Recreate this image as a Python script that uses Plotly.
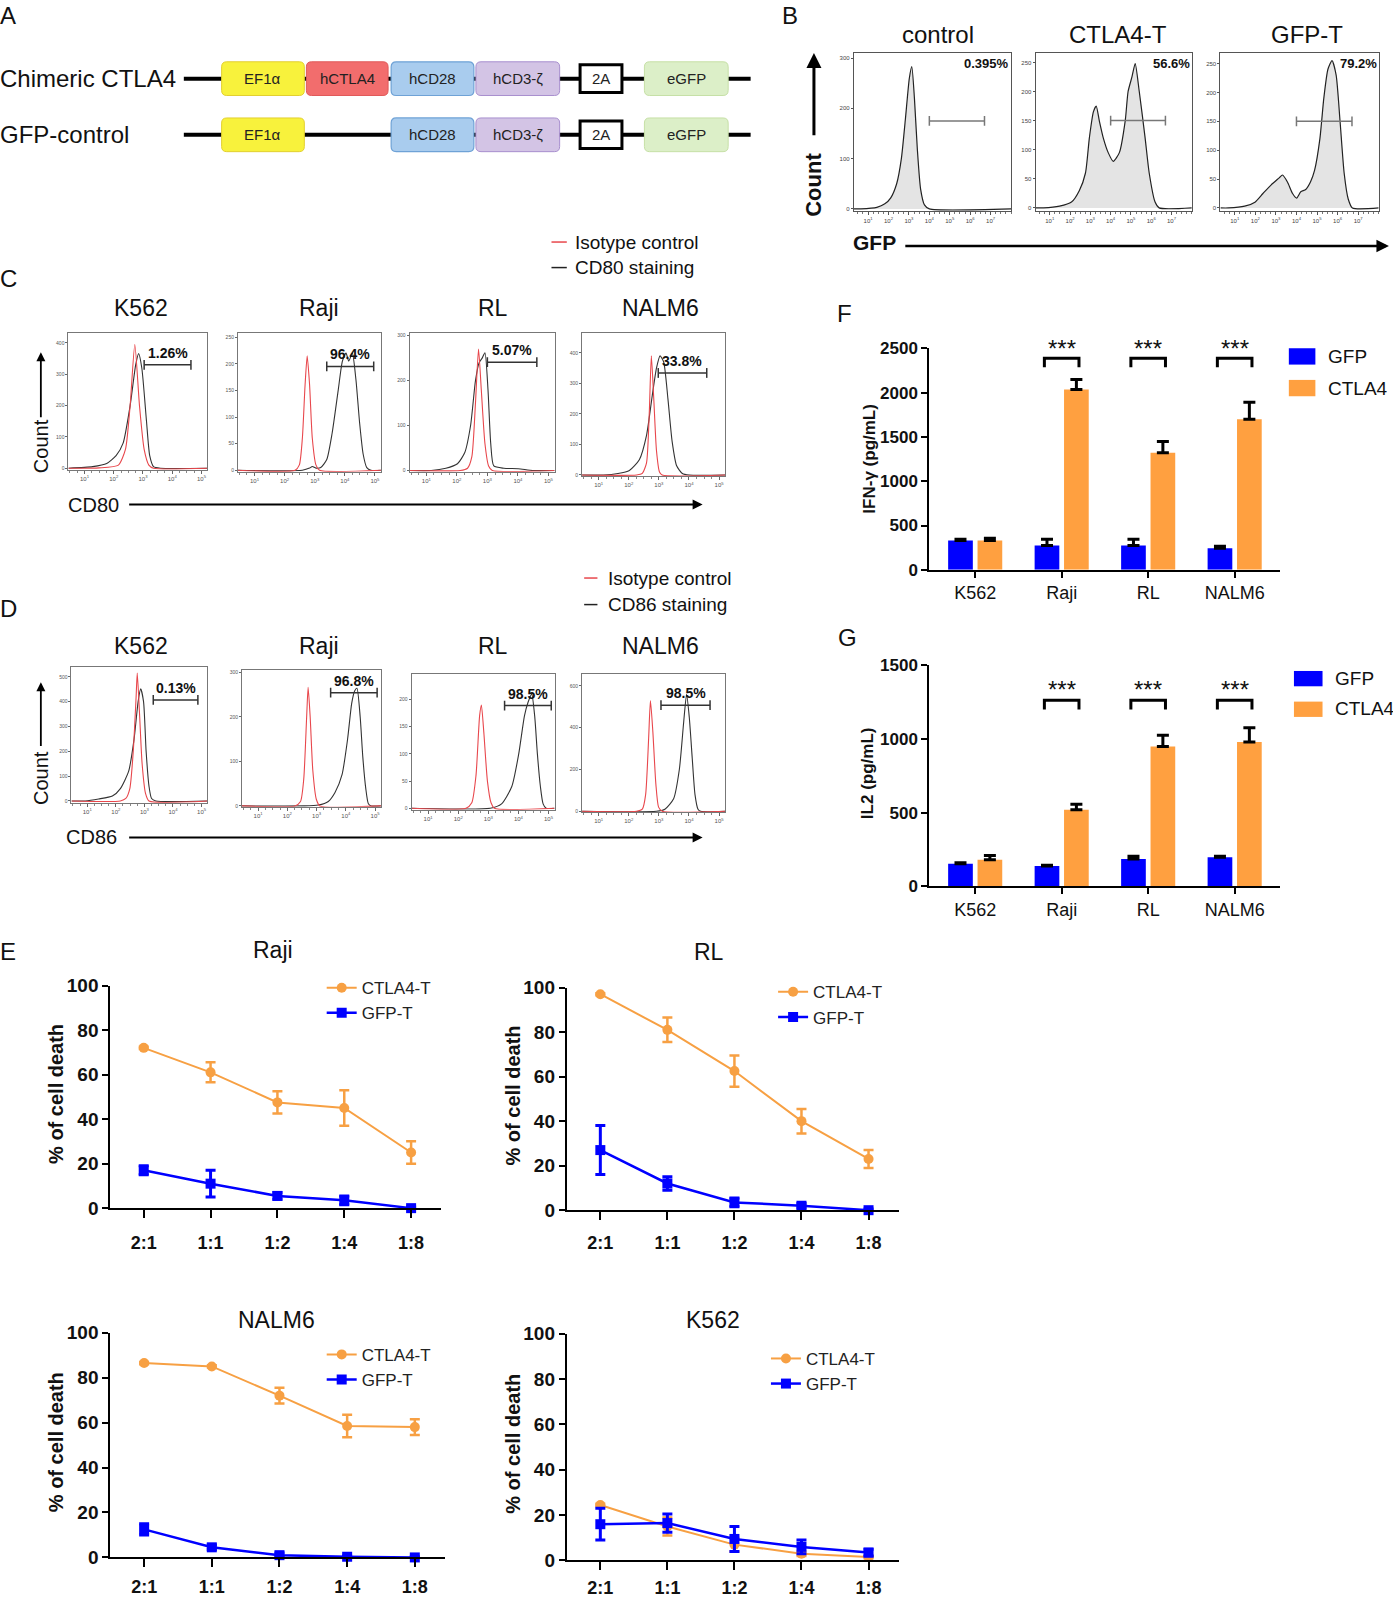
import plotly.graph_objects as go

# ======================= DATA =======================
# Panel A - constructs
construct_rows = ["Chimeric CTLA4", "GFP-control"]
construct_parts = ["EF1α", "hCTLA4", "hCD28", "hCD3-ζ", "2A", "eGFP"]
construct_present = [[1, 1, 1, 1, 1, 1], [1, 0, 1, 1, 1, 1]]

# Panel B - GFP histograms (x = log10 fluorescence, y = count)
gfp_panels = ["control", "CTLA4-T", "GFP-T"]
gfp_pct = ["0.395%", "56.6%", "79.2%"]
gfp_ctrl_logx = [0.3, 0.65, 1.43, 1.82, 2.11, 2.40, 2.63, 2.83, 3.02, 3.14, 3.27, 3.41, 3.57, 3.76, 4.0, 8.0]
gfp_ctrl_count = [0, 0, 3, 10, 22, 50, 100, 180, 260, 283, 220, 120, 40, 8, 0, 0]
gfp_ctla4t_logx = [0.3, 0.69, 1.48, 2.07, 2.46, 2.76, 2.95, 3.15, 3.29, 3.44, 3.64, 3.88, 4.13, 4.43, 4.72,
                   4.86, 5.05, 5.21, 5.41, 5.70, 5.90, 6.19, 6.39, 8.0]
gfp_ctla4t_count = [0, 0, 3, 10, 30, 60, 120, 165, 175, 150, 120, 95, 80, 95, 150,
                    200, 225, 248, 200, 120, 60, 10, 0, 0]
gfp_gfpt_logx = [0.3, 0.69, 1.48, 1.98, 2.37, 2.77, 3.16, 3.32, 3.56, 3.81, 4.01, 4.21, 4.45, 4.68, 4.88,
                 5.14, 5.33, 5.53, 5.73, 5.93, 6.12, 6.32, 6.52, 6.72, 8.0]
gfp_gfpt_count = [0, 0, 3, 10, 25, 40, 52, 57, 45, 25, 17, 28, 32, 45, 65,
                  120, 190, 240, 255, 230, 150, 60, 15, 0, 0]
gfp_gate_lo = [4.0, 4.0, 4.0]
gfp_gate_hi = [6.7, 6.7, 6.7]
gfp_gate_count = [175, 150, 150]

# Panels C/D - CD80 / CD86 histograms
cd_cell_lines = ["K562", "Raji", "RL", "NALM6"]
cd80_pct = ["1.26%", "96.4%", "5.07%", "33.8%"]
cd86_pct = ["0.13%", "96.8%", "98.5%", "98.5%"]

cd80_k562_iso_x = [0.45, 1.5, 2.16, 2.40, 2.56, 2.72, 2.88, 3.04, 3.20, 3.36, 5.2]
cd80_k562_iso_y = [0, 1, 10, 60, 200, 395, 200, 60, 10, 0, 0]
cd80_k562_stain_x = [0.45, 1.28, 1.76, 2.08, 2.32, 2.56, 2.75, 2.85, 2.96, 3.12, 3.23, 3.36, 3.60, 5.2]
cd80_k562_stain_y = [0, 5, 15, 40, 80, 200, 330, 366, 320, 150, 40, 5, 0, 0]
cd80_raji_iso_x = [0.45, 2.35, 2.49, 2.59, 2.68, 2.75, 2.83, 2.92, 3.04, 3.16, 5.2]
cd80_raji_iso_y = [0, 0, 10, 60, 160, 215, 160, 60, 10, 0, 0]
cd80_raji_stain_x = [0.45, 2.59, 2.83, 2.92, 3.04, 3.20, 3.40, 3.58, 3.78, 3.92, 4.04, 4.13, 4.25, 4.37,
                     4.49, 4.61, 4.73, 4.87, 5.2]
cd80_raji_stain_y = [0, 0, 4, 7, 4, 5, 20, 70, 150, 205, 220, 205, 220, 170, 90, 30, 5, 0, 0]
cd80_rl_iso_x = [0.45, 2.11, 2.35, 2.49, 2.61, 2.71, 2.80, 2.92, 3.04, 3.16, 5.2]
cd80_rl_iso_y = [0, 0, 5, 30, 150, 270, 180, 60, 10, 0, 0]
cd80_rl_stain_x = [0.45, 1.16, 1.64, 2.02, 2.26, 2.45, 2.61, 2.73, 2.83, 2.92, 3.02, 3.11, 3.21, 3.54,
                   4.01, 4.49, 5.2]
cd80_rl_stain_y = [0, 0, 5, 15, 40, 100, 200, 240, 250, 262, 180, 60, 10, 5, 4, 0, 0]
cd80_nalm6_iso_x = [0.45, 2.26, 2.45, 2.59, 2.68, 2.75, 2.83, 2.92, 3.02, 3.11, 5.2]
cd80_nalm6_iso_y = [0, 0, 5, 40, 200, 390, 250, 80, 10, 0, 0]
cd80_nalm6_stain_x = [0.45, 1.16, 1.64, 2.02, 2.35, 2.59, 2.78, 2.92, 3.04, 3.16, 3.30, 3.44, 3.59, 3.78,
                      4.01, 5.2]
cd80_nalm6_stain_y = [0, 0, 5, 15, 50, 130, 260, 350, 390, 370, 250, 110, 30, 5, 0, 0]
cd80_gate_lo = [3.04, 3.40, 3.00, 2.98]
cd80_gate_hi = [4.64, 4.96, 4.62, 4.59]
cd80_gate_count = [330, 195, 241, 334]

cd86_k562_iso_x = [0.45, 2.16, 2.35, 2.49, 2.61, 2.71, 2.75, 2.83, 2.92, 3.04, 3.16, 5.2]
cd86_k562_iso_y = [0, 0, 10, 50, 200, 420, 515, 350, 150, 30, 0, 0]
cd86_k562_stain_x = [0.45, 0.93, 1.40, 1.88, 2.16, 2.45, 2.64, 2.78, 2.87, 2.97, 3.06, 3.16, 3.25, 3.40, 5.2]
cd86_k562_stain_y = [0, 0, 8, 20, 50, 120, 250, 400, 452, 400, 200, 60, 10, 0, 0]
cd86_raji_iso_x = [0.45, 2.26, 2.45, 2.56, 2.66, 2.71, 2.78, 2.87, 2.99, 3.11, 5.2]
cd86_raji_iso_y = [0, 0, 10, 60, 200, 266, 200, 80, 15, 0, 0]
cd86_raji_stain_x = [0.45, 2.59, 3.06, 3.40, 3.63, 3.87, 4.06, 4.20, 4.30, 4.38, 4.49, 4.58, 4.68, 4.77,
                     4.87, 5.2]
cd86_raji_stain_y = [0, 0, 2, 10, 30, 70, 150, 230, 258, 264, 200, 110, 40, 5, 0, 0]
cd86_rl_iso_x = [0.45, 2.26, 2.45, 2.59, 2.71, 2.77, 2.85, 2.97, 3.09, 3.20, 5.2]
cd86_rl_iso_y = [0, 0, 10, 60, 170, 190, 140, 50, 10, 0, 0]
cd86_rl_stain_x = [0.45, 3.06, 3.44, 3.78, 4.01, 4.20, 4.32, 4.44, 4.54, 4.63, 4.73, 4.82, 4.92, 5.2]
cd86_rl_stain_y = [0, 0, 8, 40, 100, 170, 195, 210, 170, 100, 40, 8, 0, 0]
cd86_nalm6_iso_x = [0.45, 2.26, 2.45, 2.56, 2.66, 2.72, 2.80, 2.90, 2.99, 3.11, 5.2]
cd86_nalm6_iso_y = [0, 0, 10, 80, 350, 530, 380, 130, 20, 0, 0]
cd86_nalm6_stain_x = [0.45, 2.92, 3.20, 3.49, 3.68, 3.82, 3.92, 4.01, 4.11, 4.20, 4.30, 4.39, 5.2]
cd86_nalm6_stain_y = [0, 0, 10, 60, 200, 420, 560, 450, 250, 80, 10, 0, 0]
cd86_gate_lo = [3.31, 3.48, 3.54, 3.07]
cd86_gate_hi = [4.87, 5.07, 5.09, 4.70]
cd86_gate_count = [407, 254, 189, 508]

# Panel E - cytotoxicity (% of cell death) at E:T ratios
ratios = ["2:1", "1:1", "1:2", "1:4", "1:8"]
raji_ctla4 = [72, 61, 47.5, 45, 25]
raji_ctla4_err = [0.5, 4.5, 5, 8, 5]
raji_gfp = [17, 11, 5.5, 3.5, 0]
raji_gfp_err = [2, 6, 1.5, 2, 0.5]
rl_ctla4 = [97, 81, 62.5, 40, 23]
rl_ctla4_err = [0.5, 5.5, 7, 5.5, 4]
rl_gfp = [27, 12, 3.5, 2, 0]
rl_gfp_err = [11, 3, 2, 1, 0.5]
nalm6_ctla4 = [86.5, 85, 72, 58.5, 58]
nalm6_ctla4_err = [0.5, 0.5, 3.5, 5, 3.5]
nalm6_gfp = [12.5, 4.5, 1, 0.3, 0]
nalm6_gfp_err = [2.5, 1, 1, 0.3, 0.3]
k562_ctla4 = [24.5, 15, 7, 3, 1.5]
k562_ctla4_err = [0.5, 4, 3, 1, 0.5]
k562_gfp = [16, 16.5, 9.5, 6, 3.5]
k562_gfp_err = [7, 4, 5.5, 3, 1.5]

# Panels F/G - cytokines
cells = ["K562", "Raji", "RL", "NALM6"]
ifng_gfp = [330, 275, 275, 245]
ifng_gfp_err = [15, 70, 70, 20]
ifng_ctla4 = [330, 2035, 1320, 1700]
ifng_ctla4_err = [27, 113, 127, 192]
il2_gfp = [153, 139, 186, 198]
il2_gfp_err = [7, 4, 18, 7]
il2_ctla4 = [180, 519, 948, 977]
il2_ctla4_err = [29, 38, 76, 97]
sig_cells = ["Raji", "RL", "NALM6"]
ifng_bracket = [2285, 2387]
ifng_star = 2500
il2_bracket = [1198, 1260]
il2_star = 1330

# ======================= LAYOUT HELPERS =======================
W, H = 1393, 1601
S = W / 1364.0
FONT = "Liberation Sans, Arial, Helvetica, sans-serif"
BLUE = "#0000ff"
ORANGE = "#ffa040"
ORANGE_LINE = "#f7a043"
RED = "#e8474c"
DARK = "#333333"


def px_x(v):
    return v * S / W


def px_y(v):
    return 1 - v * S / H


layout = dict(width=W, height=H, autosize=False,
              margin=dict(l=0, r=0, t=0, b=0, pad=0, autoexpand=False),
              paper_bgcolor="white", plot_bgcolor="rgba(0,0,0,0)",
              font=dict(family=FONT, color="#111"),
              barmode="group", bargap=0.32, bargroupgap=0.16,
              showlegend=True)
annotations = []
shapes = []
axis_counter = [0]
fig = go.Figure()


def make_axes(x0, x1, y0, y1, xcfg, ycfg):
    axis_counter[0] += 1
    n = axis_counter[0]
    s = "" if n == 1 else str(n)
    xc = dict(domain=[px_x(x0), px_x(x1)], anchor="y" + s, showgrid=False, zeroline=False,
              automargin=False)
    xc.update(xcfg)
    yc = dict(domain=[px_y(y1), px_y(y0)], anchor="x" + s, showgrid=False, zeroline=False,
              automargin=False)
    yc.update(ycfg)
    layout["xaxis" + s] = xc
    layout["yaxis" + s] = yc
    return "x" + s, "y" + s


def text(x, y, t, size, bold=False, angle=0, anchor="center", color="#111"):
    annotations.append(dict(xref="paper", yref="paper", x=px_x(x), y=px_y(y), text=t,
                            showarrow=False, textangle=angle, xanchor=anchor, yanchor="middle",
                            font=dict(family=FONT, size=size, color=color,
                                      weight="bold" if bold else "normal")))


def arrow(x0, y0, x1, y1, width=2.0):
    annotations.append(dict(xref="paper", yref="paper", x=px_x(x1), y=px_y(y1),
                            ax=(x0 - x1) * S, ay=(y0 - y1) * S, axref="pixel", ayref="pixel",
                            text="", showarrow=True, arrowhead=2, arrowsize=1,
                            arrowwidth=width, arrowcolor="#000"))


def paper_rect(x0, x1, y0, y1, color):
    shapes.append(dict(type="rect", xref="paper", yref="paper", x0=px_x(x0), x1=px_x(x1),
                       y0=px_y(y1), y1=px_y(y0), fillcolor=color, line=dict(width=0)))


def paper_line(x0, x1, y, color, width=1.5):
    shapes.append(dict(type="line", xref="paper", yref="paper", x0=px_x(x0), x1=px_x(x1),
                       y0=px_y(y), y1=px_y(y), line=dict(color=color, width=width)))


# ======================= PANEL A =======================
xa, ya = make_axes(0, 760, 40, 170, dict(range=[0, 760], visible=False),
                   dict(range=[170, 40], visible=False))
part_x0 = [217, 300, 383, 466, 568, 631]
part_w = [81, 80, 81, 82, 41, 82]
part_fill = ["#f8f23c", "#f26d6d", "#a9ccee", "#d3c4e5", "#ffffff", "#dcefc8"]
part_line = ["#e2cf30", "#e05a5a", "#6fa2d6", "#a88fce", "#000000", "#c6e0a6"]
part_lw = [1, 1, 1.2, 1, 3, 1]
row_y = [77, 132]


def rrect(x0, y0, x1, y1, r):
    return (f"M {x0 + r},{y0} L {x1 - r},{y0} Q {x1},{y0} {x1},{y0 + r} L {x1},{y1 - r} "
            f"Q {x1},{y1} {x1 - r},{y1} L {x0 + r},{y1} Q {x0},{y1} {x0},{y1 - r} "
            f"L {x0},{y0 + r} Q {x0},{y0} {x0 + r},{y0} Z")


for r, rname in enumerate(construct_rows):
    yc = row_y[r]
    text(-2, yc, rname, 24, anchor="left")
    shapes.append(dict(type="line", xref=xa, yref=ya, x0=180, x1=735, y0=yc, y1=yc,
                       line=dict(color="#000", width=4)))
    for i, part in enumerate(construct_parts):
        if not construct_present[r][i]:
            continue
        hh = 13.5 if part == "2A" else 16.5
        x0 = part_x0[i]
        x1 = x0 + part_w[i]
        rad = 0 if part == "2A" else 5
        shapes.append(dict(type="path", xref=xa, yref=ya, path=rrect(x0, yc - hh, x1, yc + hh, rad),
                           fillcolor=part_fill[i], line=dict(color=part_line[i], width=part_lw[i])))
        annotations.append(dict(xref=xa, yref=ya, x=(x0 + x1) / 2, y=yc, text=part, showarrow=False,
                                font=dict(family=FONT, size=15, color="#222")))

text(8, 15, "A", 24)

# ======================= PANEL B =======================
b_boxes = [(836, 990), (1014, 1167), (1195, 1350)]
b_yrange = [[-5, 310], [-6, 266], [-6, 268]]
b_yticks = [[0, 100, 200, 300], [0, 50, 100, 150, 200, 250], [0, 50, 100, 150, 200, 250]]
b_title_x = [918, 1095, 1280]
b_curves = [(gfp_ctrl_logx, gfp_ctrl_count), (gfp_ctla4t_logx, gfp_ctla4t_count),
            (gfp_gfpt_logx, gfp_gfpt_count)]
dec_ticks = [1, 2, 3, 4, 5, 6, 7]
dec_text = ["10<sup>%d</sup>" % d for d in dec_ticks]
for k in range(3):
    x0, x1 = b_boxes[k]
    xk, yk = make_axes(x0, x1, 52, 207,
                       dict(range=[0.3, 8.0], showline=True, mirror=True, linecolor="#555", linewidth=1,
                            tickmode="array", tickvals=dec_ticks, ticktext=dec_text, ticks="outside",
                            ticklen=3, tickcolor="#555", tickfont=dict(size=6, color="#444"),
                            minor=dict(ticks="outside", ticklen=2, dtick=0.25, tick0=0, tickcolor="#777")),
                       dict(range=b_yrange[k], showline=True, mirror=True, linecolor="#555", linewidth=1,
                            tickmode="array", tickvals=b_yticks[k], ticks="outside", ticklen=2,
                            tickcolor="#555", tickfont=dict(size=6, color="#444")))
    cx, cy = b_curves[k]
    fig.add_trace(go.Scatter(x=cx, y=cy, mode="lines", fill="tozeroy", fillcolor="#e4e4e4",
                             line=dict(color="#222", width=1.2, shape="spline", smoothing=0.6),
                             xaxis=xk, yaxis=yk, showlegend=False, hoverinfo="skip"))
    fig.add_trace(go.Scatter(x=[gfp_gate_lo[k], gfp_gate_hi[k]], y=[gfp_gate_count[k]] * 2,
                             mode="lines+markers", line=dict(color="#777", width=1.5),
                             marker=dict(symbol="line-ns", size=7, line=dict(color="#777", width=1.5)),
                             xaxis=xk, yaxis=yk, showlegend=False, hoverinfo="skip"))
    annotations.append(dict(xref=xk + " domain", yref=yk + " domain", x=1.0, y=1.0,
                            xanchor="right", yanchor="top", yshift=-1, text=gfp_pct[k], showarrow=False,
                            font=dict(family=FONT, size=13, color="#111", weight="bold")))
    text(b_title_x[k], 34, gfp_panels[k], 24)

text(774, 15, "B", 24)
text(797, 181, "Count", 22, bold=True, angle=-90)
arrow(797, 134, 797, 52, width=3)
text(856, 237, "GFP", 21, bold=True)
arrow(885, 241, 1360, 241, width=2.5)

# ======================= PANELS C / D =======================
cd_title_x = [138, 312, 483, 647]


def hist_panel(boxes, yranges, yticks, curves, gate_lo, gate_hi, gate_y, pct, title_y):
    for k in range(4):
        x0, x1, y0, y1 = boxes[k]
        xk, yk = make_axes(x0, x1, y0, y1,
                           dict(range=[0.45, 5.2], showline=True, mirror=True, linecolor="#777",
                                linewidth=1, tickmode="array", tickvals=[1, 2, 3, 4, 5],
                                ticktext=dec_text[:5], ticks="outside", ticklen=3, tickcolor="#666",
                                tickfont=dict(size=6, color="#555"),
                                minor=dict(ticks="outside", ticklen=2, dtick=0.25, tick0=0,
                                           tickcolor="#888")),
                           dict(range=yranges[k], showline=True, mirror=True, linecolor="#777",
                                linewidth=1, tickmode="array", tickvals=yticks[k], ticks="outside",
                                ticklen=2, tickcolor="#666", tickfont=dict(size=5, color="#555")))
        ix, iy, sx, sy = curves[k]
        fig.add_trace(go.Scatter(x=sx, y=sy, mode="lines",
                                 line=dict(color=DARK, width=1.1, shape="spline", smoothing=0.6),
                                 xaxis=xk, yaxis=yk, showlegend=False, hoverinfo="skip"))
        fig.add_trace(go.Scatter(x=ix, y=iy, mode="lines",
                                 line=dict(color=RED, width=1.1, shape="spline", smoothing=0.6),
                                 xaxis=xk, yaxis=yk, showlegend=False, hoverinfo="skip"))
        fig.add_trace(go.Scatter(x=[gate_lo[k], gate_hi[k]], y=[gate_y[k]] * 2, mode="lines+markers",
                                 line=dict(color="#333", width=1.5),
                                 marker=dict(symbol="line-ns", size=7, line=dict(color="#333", width=1.5)),
                                 xaxis=xk, yaxis=yk, showlegend=False, hoverinfo="skip"))
        annotations.append(dict(xref=xk, yref=yk, x=(gate_lo[k] + gate_hi[k]) / 2, y=gate_y[k],
                                yanchor="bottom", yshift=2, text=pct[k], showarrow=False,
                                font=dict(family=FONT, size=14, color="#111", weight="bold")))
        text(cd_title_x[k], title_y, cd_cell_lines[k], 23)


hist_panel([(67, 203, 326, 460), (233, 373, 326, 462), (401, 543, 326, 462), (570, 710, 326, 466)],
           [[-5, 432], [-3, 258], [-3, 306], [-3, 465]],
           [[0, 100, 200, 300, 400], [0, 50, 100, 150, 200, 250], [0, 100, 200, 300], [0, 100, 200, 300, 400]],
           [(cd80_k562_iso_x, cd80_k562_iso_y, cd80_k562_stain_x, cd80_k562_stain_y),
            (cd80_raji_iso_x, cd80_raji_iso_y, cd80_raji_stain_x, cd80_raji_stain_y),
            (cd80_rl_iso_x, cd80_rl_iso_y, cd80_rl_stain_x, cd80_rl_stain_y),
            (cd80_nalm6_iso_x, cd80_nalm6_iso_y, cd80_nalm6_stain_x, cd80_nalm6_stain_y)],
           cd80_gate_lo, cd80_gate_hi, cd80_gate_count, cd80_pct, 302)

hist_panel([(70, 203, 653, 786), (237, 373, 656, 790), (403, 543, 660, 793), (570, 710, 660, 795)],
           [[-7, 540], [-2, 305], [-3, 247], [-3, 657]],
           [[0, 100, 200, 300, 400, 500], [0, 100, 200, 300], [0, 50, 100, 150, 200], [0, 200, 400, 600]],
           [(cd86_k562_iso_x, cd86_k562_iso_y, cd86_k562_stain_x, cd86_k562_stain_y),
            (cd86_raji_iso_x, cd86_raji_iso_y, cd86_raji_stain_x, cd86_raji_stain_y),
            (cd86_rl_iso_x, cd86_rl_iso_y, cd86_rl_stain_x, cd86_rl_stain_y),
            (cd86_nalm6_iso_x, cd86_nalm6_iso_y, cd86_nalm6_stain_x, cd86_nalm6_stain_y)],
           cd86_gate_lo, cd86_gate_hi, cd86_gate_count, cd86_pct, 633)

# C legend / labels
text(8, 273, "C", 24)
paper_line(540, 555, 237, RED)
text(561, 237, "Isotype control", 19, anchor="left")
paper_line(540, 555, 262, "#222")
text(561, 262, "CD80 staining", 19, anchor="left")
text(40, 437, "Count", 20, angle=-90)
arrow(40, 410, 40, 345, width=1.8)
text(92, 494, "CD80", 20)
arrow(125, 494, 688, 494, width=2)

# D legend / labels
text(8, 596, "D", 24)
paper_line(572, 585, 566, RED)
text(593, 566, "Isotype control", 19, anchor="left")
paper_line(572, 585, 592, "#222")
text(593, 592, "CD86 staining", 19, anchor="left")
text(40, 762, "Count", 20, angle=-90)
arrow(40, 732, 40, 668, width=1.8)
text(90, 820, "CD86", 20)
arrow(125, 820, 688, 820, width=2)

# ======================= PANEL E =======================
e_charts = [
    ("Raji", raji_ctla4, raji_ctla4_err, raji_gfp, raji_gfp_err, (108, 432, 965, 1183), (267, 930), 55, (315, 950), "legend", 9),
    ("RL", rl_ctla4, rl_ctla4_err, rl_gfp, rl_gfp_err, (555, 880, 967, 1185), (694, 932), 502, (757, 954), "legend2", 7),
    ("NALM6", nalm6_ctla4, nalm6_ctla4_err, nalm6_gfp, nalm6_gfp_err, (108, 436, 1305, 1525), (271, 1293), 55, (315, 1309), "legend3", 4),
    ("K562", k562_ctla4, k562_ctla4_err, k562_gfp, k562_gfp_err, (555, 880, 1306, 1528), (698, 1293), 502, (750, 1313), "legend4", 2),
]
ratio_idx = list(range(len(ratios)))
for (title, cy, ce, gy, ge, box, tpos, ylab_x, lpos, leg, standoff) in e_charts:
    x0, x1, y0, y1 = box
    xk, yk = make_axes(x0, x1, y0, y1,
                       dict(range=[-0.5, 4.45], showline=True, linecolor="#000", linewidth=2,
                            tickmode="array", tickvals=ratio_idx, ticktext=ratios, ticks="outside",
                            ticklen=8, tickwidth=2, tickcolor="#000", ticklabelstandoff=standoff,
                            tickfont=dict(size=18, color="#111", weight="bold")),
                       dict(range=[0, 100], dtick=20, showline=True, linecolor="#000", linewidth=2,
                            ticks="outside", ticklen=6, tickwidth=2, tickcolor="#000",
                            tickfont=dict(size=19, color="#111", weight="bold")))
    fig.add_trace(go.Scatter(x=ratio_idx, y=cy, name="CTLA4-T", mode="lines+markers",
                             line=dict(color=ORANGE_LINE, width=2),
                             marker=dict(symbol="circle", size=10, color=ORANGE_LINE),
                             error_y=dict(type="data", array=ce, color=ORANGE_LINE, thickness=2.5, width=5),
                             cliponaxis=False, xaxis=xk, yaxis=yk, legend=leg, hoverinfo="skip"))
    fig.add_trace(go.Scatter(x=ratio_idx, y=gy, name="GFP-T", mode="lines+markers",
                             line=dict(color=BLUE, width=2.5),
                             marker=dict(symbol="square", size=10, color=BLUE),
                             error_y=dict(type="data", array=ge, color=BLUE, thickness=3, width=5),
                             cliponaxis=False, xaxis=xk, yaxis=yk, legend=leg, hoverinfo="skip"))
    layout[leg] = dict(x=px_x(lpos[0]), y=px_y(lpos[1]), xanchor="left", yanchor="top",
                       bgcolor="rgba(0,0,0,0)", itemwidth=30, tracegroupgap=0,
                       font=dict(family=FONT, size=17, color="#222"))
    text(tpos[0], tpos[1], title, 23)
    text(ylab_x, (y0 + y1) / 2 - 3, "% of cell death", 20, bold=True, angle=-90)

text(8, 932, "E", 24)

# ======================= PANELS F / G =======================
cell_idx = list(range(len(cells)))


def bar_panel(box, yrange, dtick, gfp, gfp_err, ctla, ctla_err, bracket, star, ylabel, ylab_pos):
    x0, x1, y0, y1 = box
    xk, yk = make_axes(x0, x1, y0, y1,
                       dict(range=[-0.53, 3.52], showline=True, linecolor="#000", linewidth=2,
                            tickmode="array", tickvals=cell_idx, ticktext=cells, ticks="outside",
                            ticklen=6, tickwidth=2, tickcolor="#000",
                            tickfont=dict(size=18, color="#111")),
                       dict(range=yrange, dtick=dtick, showline=True, linecolor="#000", linewidth=2,
                            ticks="outside", ticklen=6, tickwidth=2, tickcolor="#000",
                            tickfont=dict(size=17, color="#111", weight="bold")))
    fig.add_trace(go.Bar(x=cell_idx, y=gfp, name="GFP", marker=dict(color=BLUE, line=dict(width=0)),
                         error_y=dict(type="data", array=gfp_err, arrayminus=[0] * len(gfp),
                                      symmetric=False, color="#000", thickness=3, width=6),
                         offsetgroup="gfp", xaxis=xk, yaxis=yk, showlegend=False, hoverinfo="skip"))
    fig.add_trace(go.Bar(x=cell_idx, y=ctla, name="CTLA4", marker=dict(color=ORANGE, line=dict(width=0)),
                         error_y=dict(type="data", array=ctla_err, arrayminus=[0] * len(ctla),
                                      symmetric=False, color="#000", thickness=3, width=6),
                         offsetgroup="ctla4", xaxis=xk, yaxis=yk, showlegend=False, hoverinfo="skip"))
    for c in sig_cells:
        i = cells.index(c)
        fig.add_trace(go.Scatter(x=[i - 0.2, i - 0.2, i + 0.2, i + 0.2],
                                 y=[bracket[0], bracket[1], bracket[1], bracket[0]],
                                 mode="lines", line=dict(color="#000", width=3),
                                 cliponaxis=False, xaxis=xk, yaxis=yk, showlegend=False, hoverinfo="skip"))
        annotations.append(dict(xref=xk, yref=yk, x=i, y=star, text="***", showarrow=False,
                                yanchor="middle", font=dict(family=FONT, size=24, color="#111")))
    text(ylab_pos[0], ylab_pos[1], ylabel, 17, bold=True, angle=-90)


bar_panel((910, 1253, 341, 558), [0, 2500], 500, ifng_gfp, ifng_gfp_err, ifng_ctla4, ifng_ctla4_err,
          ifng_bracket, ifng_star, "IFN-γ (pg/mL)", (851, 449))
bar_panel((910, 1253, 651, 868), [0, 1500], 500, il2_gfp, il2_gfp_err, il2_ctla4, il2_ctla4_err,
          il2_bracket, il2_star, "IL2 (pg/mL)", (849, 757))

text(827, 307, "F", 24)
paper_rect(1262, 1288, 341, 357, BLUE)
text(1298, 349, "GFP", 19, anchor="left")
paper_rect(1262, 1288, 372, 388, ORANGE)
text(1298, 380, "CTLA4", 19, anchor="left")

text(830, 624, "G", 24)
paper_rect(1267, 1295, 657, 672, BLUE)
text(1305, 664, "GFP", 19, anchor="left")
paper_rect(1267, 1295, 687, 702, ORANGE)
text(1305, 694, "CTLA4", 19, anchor="left")

layout["annotations"] = annotations
layout["shapes"] = shapes
fig.update_layout(**layout)
fig.write_html("out.html", include_plotlyjs=True,
               config={"displayModeBar": False},
               post_script=("var gd=document.getElementById('{plot_id}');"
                            "document.documentElement.style.margin='0';"
                            "document.documentElement.style.padding='0';"
                            "document.documentElement.style.overflow='hidden';"
                            "document.body.style.margin='0';document.body.style.padding='0';"
                            "document.body.style.overflow='hidden';"
                            "gd.style.position='absolute';gd.style.left='0px';gd.style.top='0px';"))
